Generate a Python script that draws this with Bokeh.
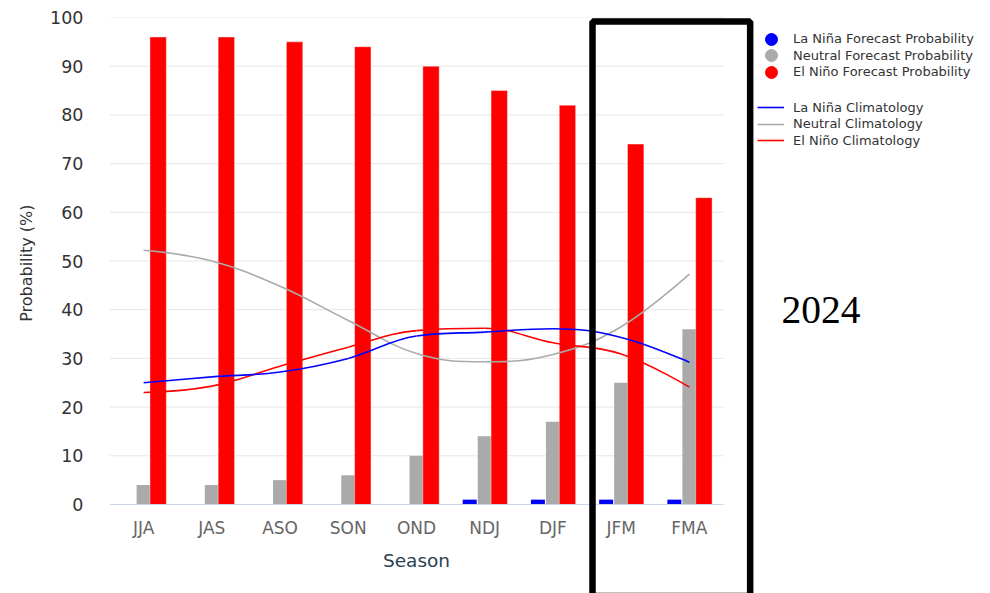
from bokeh.plotting import figure
from bokeh.models import (Range1d, BoxAnnotation, Label, Legend, LegendItem,
                          ColumnDataSource, FixedTicker, LinearAxis, Title)
from bokeh.transform import dodge
from bokeh.embed import file_html
from bokeh.resources import INLINE

# ---------------- data ----------------
seasons = ["JJA", "JAS", "ASO", "SON", "OND", "NDJ", "DJF", "JFM", "FMA"]
la_nina_fcst = [0, 0, 0, 0, 0, 1, 1, 1, 1]
neutral_fcst = [4, 4, 5, 6, 10, 14, 17, 25, 36]
el_nino_fcst = [96, 96, 95, 94, 90, 85, 82, 74, 63]
la_nina_clim = [25.0, 26.2, 27.2, 30.0, 34.6, 35.4, 36.1, 34.3, 29.2]
neutral_clim = [52.2, 50.0, 44.8, 37.8, 31.0, 29.3, 30.8, 36.5, 47.3]
el_nino_clim = [23.0, 24.3, 28.4, 32.3, 35.7, 36.2, 33.2, 30.9, 24.1]
y_ticks = [0, 10, 20, 30, 40, 50, 60, 70, 80, 90, 100]
year_label = "2024"

BLUE, GRAY, RED = "#0000ff", "#aaaaaa", "#ff0000"
FONT = "DejaVu Sans"

n = len(seasons)
pos = [i + 0.5 for i in range(n)]          # category centres on the x scale
src = ColumnDataSource(dict(pos=pos, season=seasons, lanina=la_nina_fcst,
                            neutral=neutral_fcst, elnino=el_nino_fcst))

# frame covers the whole canvas right of / below the axes so that the
# highlight box, legend and year label can be drawn beyond the chart area
p = figure(x_range=Range1d(0, 12.914), y_range=Range1d(-18.275, 100),
           width=990, height=593,
           min_border_left=109, min_border_right=0,
           min_border_top=17, min_border_bottom=0,
           x_axis_location=None,
           output_backend="svg", toolbar_location=None)
p.outline_line_color = None
p.xgrid.grid_line_color = None
p.ygrid.grid_line_color = None

# horizontal grid lines over the category span only
p.segment(x0=0, x1=n, y0=y_ticks[1:], y1=y_ticks[1:], line_color="#e6e6e6",
          line_width=1)

# bars
p.vbar(x=dodge("pos", -0.22), top="lanina", width=0.205,
       source=src, color=BLUE, line_color=None)
p.vbar(x=dodge("pos", 0.0), top="neutral", width=0.205,
       source=src, color=GRAY, line_color=None)
p.vbar(x=dodge("pos", 0.213), top="elnino", width=0.24,
       source=src, fill_color=RED, line_color="#ffffff", line_alpha=0.4,
       line_width=1)


# Highcharts-style spline through the climatology values
def spline(ys):
    xs = pos
    m = len(xs)
    sm, den = 1.5, 2.5
    lc = [None] * m
    rc = [None] * m
    for i in range(1, m - 1):
        px, py = xs[i], ys[i]
        lx, ly = xs[i - 1], ys[i - 1]
        nx, ny = xs[i + 1], ys[i + 1]
        lcx = (sm * px + lx) / den
        lcy = (sm * py + ly) / den
        rcx = (sm * px + nx) / den
        rcy = (sm * py + ny) / den
        corr = 0.0
        if rcx != lcx:
            corr = (rcy - lcy) * (rcx - px) / (rcx - lcx) + py - rcy
        lcy += corr
        rcy += corr
        if lcy > ly and lcy > py:
            lcy = max(ly, py); rcy = 2 * py - lcy
        elif lcy < ly and lcy < py:
            lcy = min(ly, py); rcy = 2 * py - lcy
        if rcy > ny and rcy > py:
            rcy = max(ny, py); lcy = 2 * py - rcy
        elif rcy < ny and rcy < py:
            rcy = min(ny, py); lcy = 2 * py - rcy
        lc[i] = (lcx, lcy)
        rc[i] = (rcx, rcy)
    d = dict(x0=[], y0=[], x1=[], y1=[], cx0=[], cy0=[], cx1=[], cy1=[])
    for i in range(1, m):
        a = rc[i - 1] or (xs[i - 1], ys[i - 1])
        b = lc[i] or (xs[i], ys[i])
        d["x0"].append(xs[i - 1]); d["y0"].append(ys[i - 1])
        d["x1"].append(xs[i]); d["y1"].append(ys[i])
        d["cx0"].append(a[0]); d["cy0"].append(a[1])
        d["cx1"].append(b[0]); d["cy1"].append(b[1])
    return ColumnDataSource(d)


curves = {}
for key, ys, col in [("nt", neutral_clim, GRAY), ("en", el_nino_clim, RED),
                     ("ln", la_nina_clim, BLUE)]:
    curves[key] = p.bezier(x0="x0", y0="y0", x1="x1", y1="y1", cx0="cx0",
                           cy0="cy0", cx1="cx1", cy1="cy1", source=spline(ys),
                           line_color=col, line_width=1.6)

# x axis pinned at y = 0, spanning only the categories
xaxis = LinearAxis(fixed_location=0, bounds=(0, n),
                   ticker=FixedTicker(ticks=pos),
                   major_label_overrides={c: s for c, s in zip(pos, seasons)})
p.add_layout(xaxis, "below")

# legend markers: zero-size scatter of the forecast values (legend draws the dot)
r_ln = p.scatter(x="pos", y="lanina", source=src, marker="circle", color=BLUE, size=0)
r_nt = p.scatter(x="pos", y="neutral", source=src, marker="circle", color=GRAY, size=0)
r_en = p.scatter(x="pos", y="elnino", source=src, marker="circle", color=RED, size=0)

FRAME_BOTTOM, FRAME_LEFT = 593, 109


def add_leg(r, label, row_center_y, glyph_w, standoff, left_x):
    row_h = 30
    leg = Legend(items=[LegendItem(label=label, renderers=[r])],
                 location=(left_x - FRAME_LEFT, FRAME_BOTTOM - (row_center_y + row_h / 2)),
                 padding=0, margin=0, spacing=0,
                 glyph_width=glyph_w, glyph_height=row_h, label_height=row_h,
                 label_standoff=standoff,
                 label_text_font=FONT, label_text_font_size="13px",
                 label_text_color="#333333",
                 border_line_alpha=0, background_fill_alpha=0)
    p.add_layout(leg)


add_leg(r_ln, "La Niña Forecast Probability", 38.5, 30, 7, 756)
add_leg(r_nt, "Neutral Forecast Probability", 55.0, 30, 7, 756)
add_leg(r_en, "El Niño Forecast Probability", 71.5, 30, 7, 756)
add_leg(curves["ln"], "La Niña Climatology", 107.3, 27, 9, 757)
add_leg(curves["nt"], "Neutral Climatology", 123.7, 27, 9, 757)
add_leg(curves["en"], "El Niño Climatology", 140.0, 27, 9, 757)

# highlight box around the 2024 seasons
p.add_layout(BoxAnnotation(left=7.08, right=9.391, top=99.18, bottom=-18.79,
                           fill_alpha=0, line_color="black", line_alpha=1,
                           line_width=6.5, level="overlay"))
p.add_layout(Label(x=10.43, y=40.0, text=year_label, text_font="Liberation Serif",
                   text_font_size="39.5px", text_color="black",
                   text_align="center", text_baseline="alphabetic"))

# axes styling
p.yaxis.ticker = FixedTicker(ticks=y_ticks)
p.yaxis.bounds = (0, 100)
p.yaxis.axis_line_color = None
p.yaxis.major_tick_line_color = None
p.yaxis.minor_tick_line_color = None
p.yaxis.major_tick_out = 0
p.yaxis.minor_tick_out = 0
p.yaxis.major_label_standoff = 26
p.yaxis.major_label_text_font = FONT
p.yaxis.major_label_text_font_size = "17.5px"
p.yaxis.major_label_text_color = "#333333"

# y-axis title placed alongside the 0-100 span
p.add_layout(Title(text="Probability (%)", align="right", offset=187,
                   vertical_align="middle", standoff=22,
                   text_font=FONT, text_font_size="16px",
                   text_font_style="normal", text_color="#333333"), "left")

xaxis.axis_line_color = "#ccd6eb"
xaxis.major_tick_line_color = None
xaxis.minor_tick_line_color = None
xaxis.major_tick_out = 0
xaxis.major_tick_in = 0
xaxis.minor_tick_out = 0
xaxis.minor_tick_in = 0
xaxis.major_label_standoff = 13
xaxis.major_label_text_font = FONT
xaxis.major_label_text_font_size = "17px"
xaxis.major_label_text_color = "#666666"
xaxis.axis_label = "Season"
xaxis.axis_label_text_font = FONT
xaxis.axis_label_text_font_size = "18.5px"
xaxis.axis_label_text_font_style = "normal"
xaxis.axis_label_text_color = "#2b3f52"
xaxis.axis_label_standoff = 9

open("out.html", "w").write(file_html(p, INLINE))
